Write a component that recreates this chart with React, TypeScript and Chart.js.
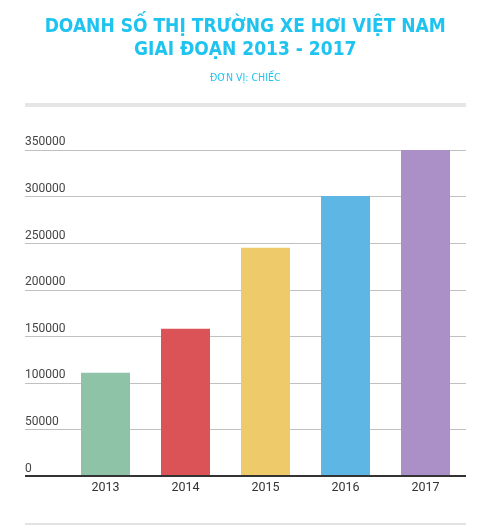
import React, { useEffect, useRef } from 'react';
import { Chart, registerables } from 'chart.js';

Chart.register(...registerables);

const years = ['2013', '2014', '2015', '2016', '2017'];
const sales = [110700, 158000, 245000, 300500, 350000];
const barColors = ['#8ec3a7', '#db5257', '#eeca6a', '#5eb6e4', '#aa90c7'];
const yTicks = [0, 50000, 100000, 150000, 200000, 250000, 300000, 350000];

const titleLines = ['DOANH SỐ THỊ TRƯỜNG XE HƠI VIỆT NAM', 'GIAI ĐOẠN 2013 - 2017'];
const subtitleText = 'ĐƠN VỊ: CHIẾC';

const LINE_LEFT = 25;
const LINE_RIGHT = 466;

// gridlines run under the y labels too, and the two grey separators
const linesPlugin = {
    id: 'lines',
    beforeDatasetsDraw(chart: any) {
        const ctx = chart.ctx;
        const y = chart.scales.y;
        ctx.save();
        ctx.strokeStyle = '#c0c0c0';
        ctx.lineWidth = 1;
        yTicks.forEach((v) => {
            if (v === 0) return;
            const py = Math.round(y.getPixelForValue(v)) + 0.5;
            ctx.beginPath();
            ctx.moveTo(LINE_LEFT, py);
            ctx.lineTo(LINE_RIGHT, py);
            ctx.stroke();
        });
        // separators
        ctx.fillStyle = '#e6e6e6';
        ctx.fillRect(LINE_LEFT, 103, LINE_RIGHT - LINE_LEFT, 4);
        ctx.fillStyle = '#e3e3e3';
        ctx.fillRect(LINE_LEFT, 523, LINE_RIGHT - LINE_LEFT, 2);
        ctx.restore();
    },
    afterDatasetsDraw(chart: any) {
        const ctx = chart.ctx;
        const py = chart.scales.y.getPixelForValue(0);
        ctx.save();
        ctx.strokeStyle = '#333333';
        ctx.lineWidth = 2;
        ctx.beginPath();
        ctx.moveTo(LINE_LEFT, py);
        ctx.lineTo(LINE_RIGHT, py);
        ctx.stroke();
        ctx.restore();
    },
};

const App: React.FC = () => {
    const chartRef = useRef<HTMLCanvasElement>(null);
    const chartInstance = useRef<Chart | null>(null);

    useEffect(() => {
        if (!chartRef.current) return;
        if (chartInstance.current) {
            chartInstance.current.destroy();
        }
        chartInstance.current = new Chart(chartRef.current, {
            type: 'bar',
            data: {
                labels: years,
                datasets: [
                    {
                        data: sales,
                        backgroundColor: barColors,
                        borderWidth: 0,
                        barPercentage: 0.6125,
                        categoryPercentage: 1,
                    },
                ],
            },
            options: {
                animation: false,
                responsive: true,
                maintainAspectRatio: false,
                layout: {
                    padding: { left: 25, right: 25.5, top: 0, bottom: 31 },
                },
                plugins: {
                    legend: { display: false },
                    tooltip: { enabled: false },
                    title: {
                        display: true,
                        text: titleLines,
                        color: '#1fc3ef',
                        font: { family: '"DejaVu Sans Condensed", "DejaVu Sans", sans-serif', size: 19, weight: 'bold', lineHeight: 1.2 },
                        padding: { top: 16, bottom: 10 },
                    },
                    subtitle: {
                        display: true,
                        text: subtitleText,
                        color: '#1fc3ef',
                        font: { family: '"DejaVu Sans Condensed", "DejaVu Sans", sans-serif', size: 10.5, lineHeight: 1.2 },
                        padding: { top: 0, bottom: 65.7 },
                    },
                },
                scales: {
                    x: {
                        grid: { display: false, drawTicks: false },
                        border: { display: false },
                        ticks: {
                            color: '#333333',
                            font: { family: 'Roboto', size: 12.5 },
                            padding: 4,
                        },
                        afterFit(scale: any) {
                            scale.height = 20;
                        },
                    },
                    y: {
                        min: 0,
                        max: 350000,
                        grid: { display: false, drawTicks: false },
                        border: { display: false },
                        ticks: {
                            stepSize: 50000,
                            color: '#444444',
                            font: { family: 'Roboto', size: 12 },
                            mirror: true,
                            padding: -40.5,
                            labelOffset: -7.5,
                            callback: (v: any) => String(v),
                        },
                        afterFit(scale: any) {
                            scale.width = 40.5;
                        },
                    },
                },
            },
            plugins: [linesPlugin],
        });

        return () => {
            if (chartInstance.current) {
                chartInstance.current.destroy();
                chartInstance.current = null;
            }
        };
    }, []);

    return (
        <div style={{ position: 'absolute', left: 0, top: 0, width: 491, height: 527, background: '#ffffff' }}>
            <canvas ref={chartRef} />
        </div>
    );
};

export default App;
